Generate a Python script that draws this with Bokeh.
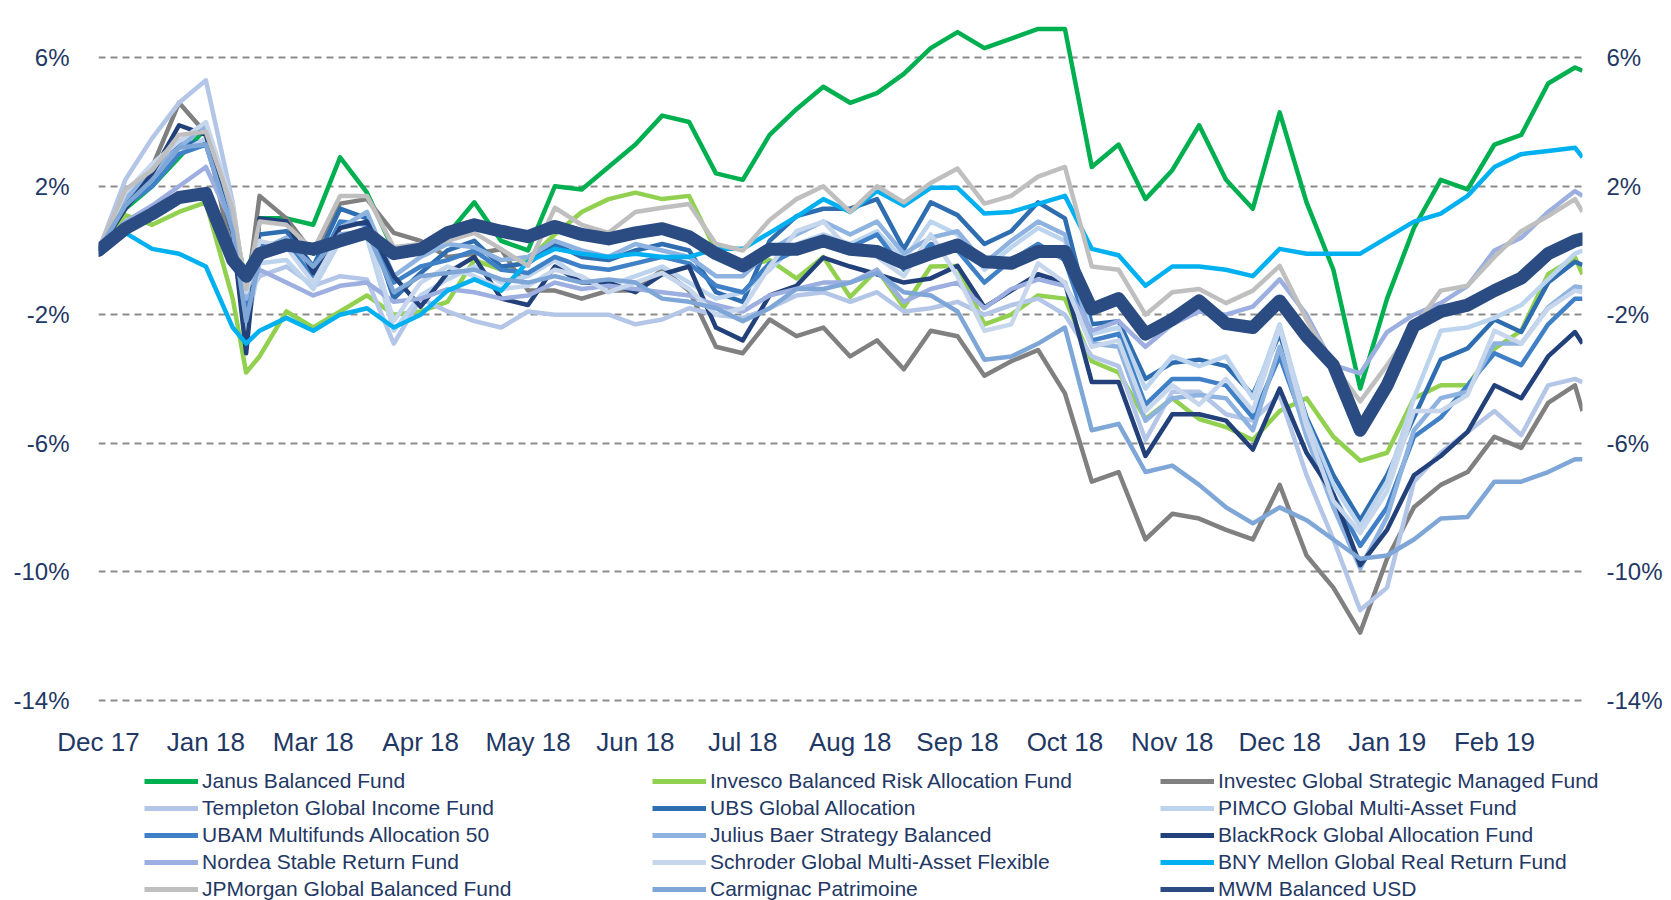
from bokeh.plotting import figure
from bokeh.layouts import column
from bokeh.models import (FixedTicker, LinearAxis, PrintfTickFormatter, Legend,
                          LegendItem, Range1d)
from bokeh.embed import file_html
from bokeh.resources import INLINE

# time axis: months of trading time since end of Dec 2017
period = [0, 0.25, 0.5, 0.75,
          1.0, 1.25, 1.375, 1.5, 1.75,
          2.0, 2.25, 2.5, 2.75,
          3.0, 3.25, 3.5, 3.75,
          4.0, 4.25, 4.5, 4.75,
          5.0, 5.25, 5.5, 5.75,
          6.0, 6.25, 6.5, 6.75,
          7.0, 7.25, 7.5, 7.75,
          8.0, 8.25, 8.5, 8.75,
          9.0, 9.25, 9.5, 9.75,
          10.0, 10.25, 10.5, 10.75,
          11.0, 11.25, 11.5, 11.75,
          12.0, 12.25, 12.5, 12.75,
          13.0, 13.25, 13.5, 13.75, 13.82]

month_labels = ["Dec 17", "Jan 18", "Mar 18", "Apr 18", "May 18", "Jun 18", "Jul 18",
                "Aug 18", "Sep 18", "Oct 18", "Nov 18", "Dec 18", "Jan 19", "Feb 19"]
label_pos = list(range(14))
y_ticks = [-14, -10, -6, -2, 2, 6]

janus = [0, 1.3, 2.0, 2.9, 3.8, 1.0, -1.0, 1.0, 1.0, 0.8, 2.9, 1.8, 0.0, 0.1, 0.5, 1.5, 0.3,
         0.0, 2.0, 1.9, 2.6, 3.3, 4.2, 4.0, 2.4, 2.2, 3.6, 4.4, 5.1, 4.6, 4.9, 5.5, 6.3,
         6.8, 6.3, 6.6, 6.9, 6.9, 2.6, 3.3, 1.6, 2.5, 3.9, 2.2, 1.3, 4.3, 1.5, -0.6, -4.3,
         -1.5, 0.7, 2.2, 1.9, 3.3, 3.6, 5.2, 5.7, 5.6]
invesco = [0, 1.1, 0.8, 1.2, 1.5, -1.5, -3.8, -3.3, -1.9, -2.4, -1.9, -1.4, -2.0,
           -1.9, -1.6, -0.3, -0.6, -0.3, 0.5, 1.2, 1.6, 1.8, 1.6, 1.7, 0.0,
           -0.5, -0.3, -0.87, -0.2, -1.45, -0.6, -1.77, -0.5, -0.48, -2.3, -2.0, -1.4,
           -1.5, -3.45, -3.8, -5.25, -4.6, -5.25, -5.5, -5.9, -5.0, -4.6, -5.8, -6.55,
           -6.3, -4.6, -4.2, -4.2, -3.06, -2.5, -0.74, -0.22, -0.74]
investec = [0, 1.6, 2.6, 4.6, 3.65, -0.2, -1.5, 1.7, 1.0, -0.1, 1.46, 1.6, 0.55,
            0.3, -0.2, -0.1, 0.04, -1.25, -1.25, -1.5, -1.25, -1.25, -0.6, -1.25, -3.0,
            -3.2, -2.15, -2.67, -2.4, -3.3, -2.8, -3.7, -2.5, -2.67, -3.9, -3.45, -3.1,
            -4.45, -7.2, -6.9, -9.0, -8.2, -8.35, -8.7, -9.0, -7.3, -9.5, -10.5, -11.9,
            -9.6, -8.0, -7.3, -6.9, -5.8, -6.15, -4.75, -4.2, -5.0]
templeton = [0, 2.2, 3.5, 4.6, 5.3, 1.5, -1.5, -0.8, -0.5, -1.1, -0.8, -0.9, -2.9,
             -1.5, -1.9, -2.2, -2.4, -1.9, -2.0, -2.0, -2.0, -2.3, -2.15, -1.8, -2.0,
             -2.1, -1.8, -1.4, -1.3, -1.6, -1.3, -1.9, -1.8, -1.6, -2.0, -1.7, -1.5,
             -2.0, -3.3, -3.6, -5.9, -4.4, -4.4, -5.1, -5.3, -4.5, -7.0, -9.0, -11.2,
             -10.5, -7.2, -6.3, -5.65, -5.0, -5.75, -4.2, -4.0, -4.1]
ubs = [0, 1.5, 2.3, 3.3, 3.4, 1.2, -1.8, 0.5, 0.6, -0.5, 1.3, 1.0, -1.5,
       -0.7, 0.0, 0.3, -0.5, -0.4, 0.2, -0.2, -0.3, 0.0, 0.2, 0.0, -1.3,
       -1.6, 0.3, 1.07, 1.3, 1.3, 1.6, 0.04, 1.5, 1.1, 0.2, 0.6, 1.5,
       1.0, -2.3, -2.2, -4.0, -3.5, -3.4, -3.6, -4.5, -2.6, -5.2, -7.0, -8.4,
       -7.0, -5.2, -3.4, -3.05, -2.15, -2.54, -1.0, -0.35, -0.45]
pimco = [0, 1.7, 2.4, 3.0, 3.5, 0.9, -2.5, -0.4, -0.3, -1.2, 0.3, 0.4, -2.5,
         -1.4, -0.9, -0.5, -1.0, -0.8, -0.3, -0.9, -1.1, -0.8, -0.5, -1.0, -1.5,
         -1.3, -0.6, 0.2, 0.5, 0.2, 0.6, -0.3, 0.9, 0.5, -0.6, 0.1, 0.7,
         0.3, -2.6, -2.4, -4.3, -3.3, -3.6, -3.3, -4.6, -2.3, -5.3, -7.3, -8.6,
         -7.2, -4.6, -2.5, -2.4, -2.1, -1.7, -0.9, -0.1, 0.0]
ubam = [0, 1.4, 2.0, 3.0, 3.3, 0.7, -2.0, 0.2, 0.2, -0.8, 0.9, 0.8, -1.0,
        -0.5, -0.3, 0.0, -0.6, -0.7, -0.2, -0.5, -0.6, -0.4, -0.2, -0.4, -1.1,
        -1.3, -0.4, 0.0, 0.4, 0.1, 0.5, -0.6, 0.2, 0.0, -1.0, -0.3, 0.2,
        -0.3, -2.8, -2.6, -4.8, -4.0, -4.0, -4.2, -5.2, -3.3, -5.6, -7.6, -9.2,
        -8.0, -5.8, -5.2, -4.2, -3.2, -3.57, -2.3, -1.5, -1.5]
julius = [0, 1.6, 2.5, 3.2, 3.9, 1.0, -1.5, 0.0, 0.4, -0.6, 0.7, 1.2, -0.8,
          -0.2, 0.2, 0.1, -0.3, -0.2, 0.3, 0.0, -0.2, 0.2, 0.0, -0.2, -0.8,
          -0.8, 0.0, 0.5, 0.9, 0.5, 0.9, -0.1, 0.4, 0.6, -0.4, 0.3, 0.9,
          0.5, -2.9, -3.0, -5.3, -4.6, -4.5, -4.6, -5.6, -3.0, -5.8, -8.0, -9.9,
          -8.3, -5.6, -4.6, -4.4, -2.9, -2.9, -1.77, -1.12, -1.15]
blackrock = [0, 1.3, 2.4, 3.9, 3.6, 0.5, -3.2, 1.0, 0.9, -0.7, 0.7, 0.9, -0.8,
             -1.75, -0.7, -0.2, -1.5, -1.7, -0.5, -1.0, -1.0, -1.3, -0.74, -0.5, -2.4,
             -2.8, -1.4, -1.1, -0.22, -0.5, -0.74, -1.0, -0.87, -0.48, -1.77, -1.25, -0.74,
             -1.0, -4.1, -4.1, -6.4, -5.1, -5.1, -5.3, -6.2, -4.3, -6.3, -7.6, -9.8,
             -8.7, -7.0, -6.4, -5.65, -4.2, -4.6, -3.3, -2.54, -2.9]
nordea = [0, 0.9, 1.4, 2.0, 2.6, 0.8, -1.2, -0.6, -1.0, -1.4, -1.1, -1.0, -1.6,
          -1.5, -1.2, -1.3, -1.5, -1.4, -1.0, -1.2, -1.1, -1.2, -1.3, -1.4, -1.7,
          -1.9, -1.4, -1.2, -1.0, -1.0, -0.6, -1.6, -1.2, -1.0, -1.8, -1.2, -0.9,
          -1.1, -2.5, -2.2, -3.0, -2.3, -1.9, -2.0, -1.75, -0.9, -2.0, -3.57, -3.83,
          -2.54, -2.0, -1.64, -1.1, 0.0, 0.4, 1.2, 1.85, 1.7]
schroder = [0, 1.8, 2.7, 3.4, 4.0, 1.4, -1.3, 0.3, 0.1, -1.0, 0.5, 0.6, -2.2,
            -1.0, -0.5, -0.8, -1.2, -1.1, -0.6, -0.8, -1.3, -1.0, -0.7, -1.2, -2.0,
            -1.8, -0.5, 0.6, 0.9, 0.0, -0.2, -0.8, 0.5, -0.8, -2.5, -2.3, -0.4,
            -1.0, -3.0, -2.8, -5.0, -4.2, -4.8, -4.0, -5.0, -2.4, -5.5, -7.8, -8.8,
            -7.5, -5.0, -5.0, -4.5, -2.5, -2.9, -1.8, -1.25, -1.3]
bny = [0, 0.55, 0.05, -0.1, -0.5, -2.4, -2.9, -2.5, -2.1, -2.5, -2.0, -1.8, -2.4,
       -2.0, -1.25, -0.9, -1.25, -0.35, 0.05, -0.1, -0.2, -0.1, -0.2, -0.2, 0.05,
       0.05, 0.55, 1.05, 1.6, 1.2, 1.85, 1.4, 1.95, 1.95, 1.15, 1.2, 1.45,
       1.7, 0.05, -0.15, -1.1, -0.5, -0.5, -0.6, -0.8, 0.05, -0.1, -0.1, -0.1,
       0.4, 0.9, 1.15, 1.7, 2.6, 3.0, 3.1, 3.2, 2.9]
jpmorgan = [0, 1.9, 2.5, 3.6, 3.7, 1.3, -1.2, 0.9, 0.8, 0.0, 1.7, 1.7, 0.1,
            0.2, 0.3, 0.55, 0.04, -0.48, 1.33, 0.8, 0.55, 1.2, 1.33, 1.45, 0.2,
            0.0, 0.95, 1.6, 2.0, 1.2, 2.0, 1.5, 2.1, 2.55, 1.46, 1.7, 2.3,
            2.6, -0.5, -0.6, -2.0, -1.3, -1.2, -1.64, -1.25, -0.48, -2.15, -3.57, -4.7,
            -3.57, -2.4, -1.25, -1.1, -0.2, 0.6, 1.07, 1.6, 1.2]
carmignac = [0, 1.4, 2.2, 3.2, 3.3, 0.6, -2.2, -0.3, 0.3, -0.5, 0.5, 0.6, -1.3,
             -0.8, -0.7, -0.6, -0.9, -1.0, -0.8, -1.0, -0.9, -1.0, -1.5, -1.6, -1.8,
             -2.2, -1.8, -1.2, -1.2, -1.0, -0.7, -1.3, -1.4, -1.9, -3.4, -3.3, -2.9,
             -2.4, -5.6, -5.4, -6.9, -6.7, -7.3, -8.0, -8.5, -8.0, -8.4, -9.0, -9.6,
             -9.5, -9.0, -8.35, -8.3, -7.2, -7.2, -6.9, -6.5, -6.5]
mwm = [0, 0.68, 1.14, 1.65, 1.78, -0.3, -0.8, -0.1, 0.17, 0.04, 0.3, 0.55, -0.1,
       0.04, 0.55, 0.8, 0.6, 0.43, 0.75, 0.5, 0.36, 0.55, 0.68, 0.43, -0.1,
       -0.48, 0.04, 0.04, 0.3, 0.04, -0.03, -0.4, -0.1, 0.17, -0.35, -0.4, -0.03,
       -0.03, -1.83, -1.5, -2.6, -2.15, -1.57, -2.28, -2.4, -1.57, -2.67, -3.57, -5.6,
       -4.2, -2.35, -1.9, -1.7, -1.25, -0.86, -0.1, 0.3, 0.36]

fund_names = ["Janus Balanced Fund", "Invesco Balanced Risk Allocation Fund",
              "Investec Global Strategic Managed Fund", "Templeton Global Income Fund",
              "UBS Global Allocation", "PIMCO Global Multi-Asset Fund",
              "UBAM Multifunds Allocation 50", "Julius Baer Strategy Balanced",
              "BlackRock Global Allocation Fund", "Nordea Stable Return Fund",
              "Schroder Global Multi-Asset Flexible", "BNY Mellon Global Real Return Fund",
              "JPMorgan Global Balanced Fund", "Carmignac Patrimoine", "MWM Balanced USD"]
fund_values = [janus, invesco, investec, templeton, ubs, pimco, ubam, julius, blackrock,
               nordea, schroder, bny, jpmorgan, carmignac, mwm]
fund_colors = ["#00B050", "#92D050", "#808080", "#B4C6E7", "#2E6DB0", "#BCD4EE",
               "#3F80C6", "#8EB3E0", "#22407A", "#9CAFE0", "#C6D6EC", "#00B0F0",
               "#BFBFBF", "#7EA7D8", "#2B4C82"]

for v in fund_values:
    assert len(v) == len(period), len(v)

TEXT = "#1F3864"
FONT = "Liberation Sans"

p = figure(frame_width=1484, frame_height=695, output_backend="svg",
           toolbar_location=None,
           x_range=Range1d(0, 13.82), y_range=Range1d(-14.109, 7.536),
           min_border_left=98, min_border_right=85, min_border_top=8,
           min_border_bottom=55)
p.outline_line_color = None
p.background_fill_color = "white"
p.border_fill_color = "white"

p.xgrid.visible = False
p.ygrid.ticker = FixedTicker(ticks=y_ticks)
p.ygrid.grid_line_color = "#8C8C8C"
p.ygrid.grid_line_dash = "7 5"
p.ygrid.grid_line_width = 2

# x axis
p.xaxis.ticker = FixedTicker(ticks=label_pos)
p.xaxis.major_label_overrides = {k: lab for k, lab in zip(label_pos, month_labels)}
p.xaxis.axis_line_color = None
p.xaxis.major_tick_line_color = None
p.xaxis.minor_tick_line_color = None
p.xaxis.major_tick_out = 0
p.xaxis.major_tick_in = 0
p.xaxis.major_label_standoff = 23
p.xaxis.major_label_text_font_size = "26px"
p.xaxis.major_label_text_font = FONT
p.xaxis.major_label_text_color = TEXT


def style_y(ax, standoff):
    ax.ticker = FixedTicker(ticks=y_ticks)
    ax.formatter = PrintfTickFormatter(format="%d%%")
    ax.axis_line_color = None
    ax.major_tick_line_color = None
    ax.minor_tick_line_color = None
    ax.major_tick_out = 0
    ax.major_tick_in = 0
    ax.major_label_standoff = standoff
    ax.major_label_text_font_size = "24px"
    ax.major_label_text_font = FONT
    ax.major_label_text_color = TEXT


style_y(p.yaxis[0], 29)
right_axis = LinearAxis()
style_y(right_axis, 24)
p.add_layout(right_axis, "right")

for name, vals, col in zip(fund_names, fund_values, fund_colors):
    if name == "MWM Balanced USD":
        p.line(period, vals, line_color=col, line_width=13,
               line_join="round", line_cap="round")
    else:
        p.line(period, vals, line_color=col, line_width=4.5, line_join="round")

# legend panel underneath the chart
lg = figure(frame_width=1667, frame_height=142, output_backend="svg",
            toolbar_location=None, x_axis_type=None, y_axis_type=None,
            x_range=Range1d(0, 1), y_range=Range1d(0, 1),
            min_border_left=0, min_border_right=0, min_border_top=0,
            min_border_bottom=0)
lg.outline_line_color = None
lg.xgrid.visible = False
lg.ygrid.visible = False

nan = float("nan")
items = []
for name, col in zip(fund_names, fund_colors):
    sw = lg.line(x=[nan, nan], y=[nan, nan], line_color=col, line_width=5)
    items.append(LegendItem(label=name, renderers=[sw]))

legend = Legend(items=items, orientation="horizontal", ncols=3,
                location=(144, 0), glyph_width=54, glyph_height=20,
                label_height=20, label_width=447, label_standoff=4, spacing=3,
                padding=0, margin=0, border_line_alpha=0, background_fill_alpha=0,
                label_text_font_size="21px", label_text_font=FONT,
                label_text_color=TEXT)
lg.add_layout(legend)

layout = column(p, lg, spacing=0)
open("out.html", "w").write(file_html(layout, INLINE))
